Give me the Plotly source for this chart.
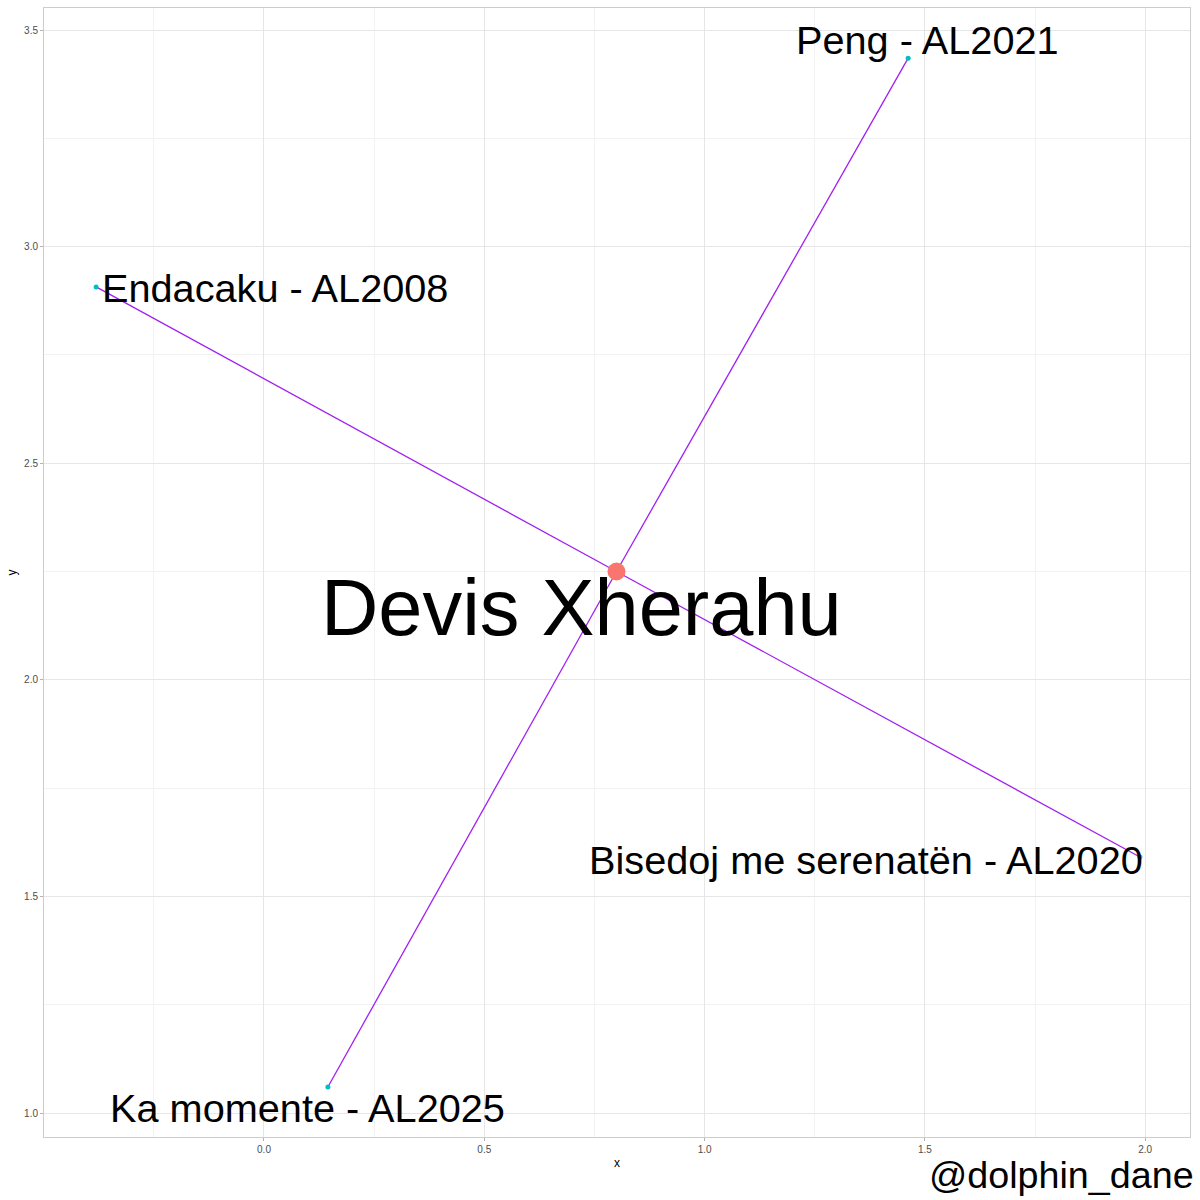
import plotly.graph_objects as go

# ---- data ----
artist = "Devis Xherahu"
artist_x = [0.80]
artist_y = [2.25]

songs = ["Peng - AL2021", "Endacaku - AL2008", "Bisedoj me serenatën - AL2020", "Ka momente - AL2025"]
song_x = [1.462, -0.381, 1.988, 0.145]
song_y = [3.435, 2.907, 1.591, 1.060]

# label anchor positions (data units)
label_x = [1.507, 0.026, 1.366, 0.098]
label_y = [3.477, 2.904, 1.584, 1.012]
artist_label_x = 0.72
artist_label_y = 2.166

x_ticks = [0.0, 0.5, 1.0, 1.5, 2.0]
y_ticks = [1.0, 1.5, 2.0, 2.5, 3.0, 3.5]

FONT = "Liberation Sans, Arial, sans-serif"

fig = go.Figure()

# connecting segments
lx, ly = [], []
for sx, sy in zip(song_x, song_y):
    lx += [artist_x[0], sx, None]
    ly += [artist_y[0], sy, None]
fig.add_trace(go.Scatter(x=lx, y=ly, mode="lines",
                         line=dict(color="#A020F0", width=1.3),
                         hoverinfo="skip", showlegend=False))

fig.add_trace(go.Scatter(x=song_x, y=song_y, mode="markers",
                         marker=dict(color="#00BFC4", size=5),
                         showlegend=False))
fig.add_trace(go.Scatter(x=artist_x, y=artist_y, mode="markers",
                         marker=dict(color="#F8766D", size=18),
                         showlegend=False))

for t, x, y in zip(songs, label_x, label_y):
    fig.add_annotation(x=x, y=y, text=t, showarrow=False,
                       xanchor="center", yanchor="middle",
                       font=dict(family=FONT, size=39.7, color="black"))

fig.add_annotation(x=artist_label_x, y=artist_label_y, text=artist, showarrow=False,
                   xanchor="center", yanchor="middle",
                   font=dict(family=FONT, size=79.4, color="black"))

fig.add_annotation(xref="paper", yref="paper", x=1.0055, y=-0.034, text="@dolphin_dane",
                   showarrow=False, xanchor="right", yanchor="middle",
                   font=dict(family=FONT, size=37.7, color="black"))

axis_common = dict(
    showline=True, linecolor="#CCCCCC", linewidth=1, mirror=True,
    gridcolor="#E6E6E6", gridwidth=1,
    ticks="outside", ticklen=3, tickcolor="#B3B3B3",
    tickfont=dict(family=FONT, size=10, color="#4D4D4D"),
    tickformat=".1f", zeroline=False,
    minor=dict(dtick=0.25, showgrid=True, gridcolor="#F2F2F2", gridwidth=0.6),
)

fig.update_xaxes(range=[-0.4993, 2.1017], tickvals=x_ticks,
                 title=dict(text="x", font=dict(family=FONT, size=12, color="black"), standoff=4),
                 **axis_common)
fig.update_yaxes(range=[0.9446, 3.5508], tickvals=y_ticks,
                 title=dict(text="y", font=dict(family=FONT, size=12, color="black"), standoff=4),
                 **axis_common)

fig.update_layout(
    width=1200, height=1200,
    margin=dict(l=44, r=10, t=8, b=63),
    plot_bgcolor="white", paper_bgcolor="white",
    showlegend=False,
    font=dict(family=FONT),
)

fig.write_html("out.html", config={"displayModeBar": False},
               post_script="document.body.style.margin='0';document.body.style.overflow='hidden';")
